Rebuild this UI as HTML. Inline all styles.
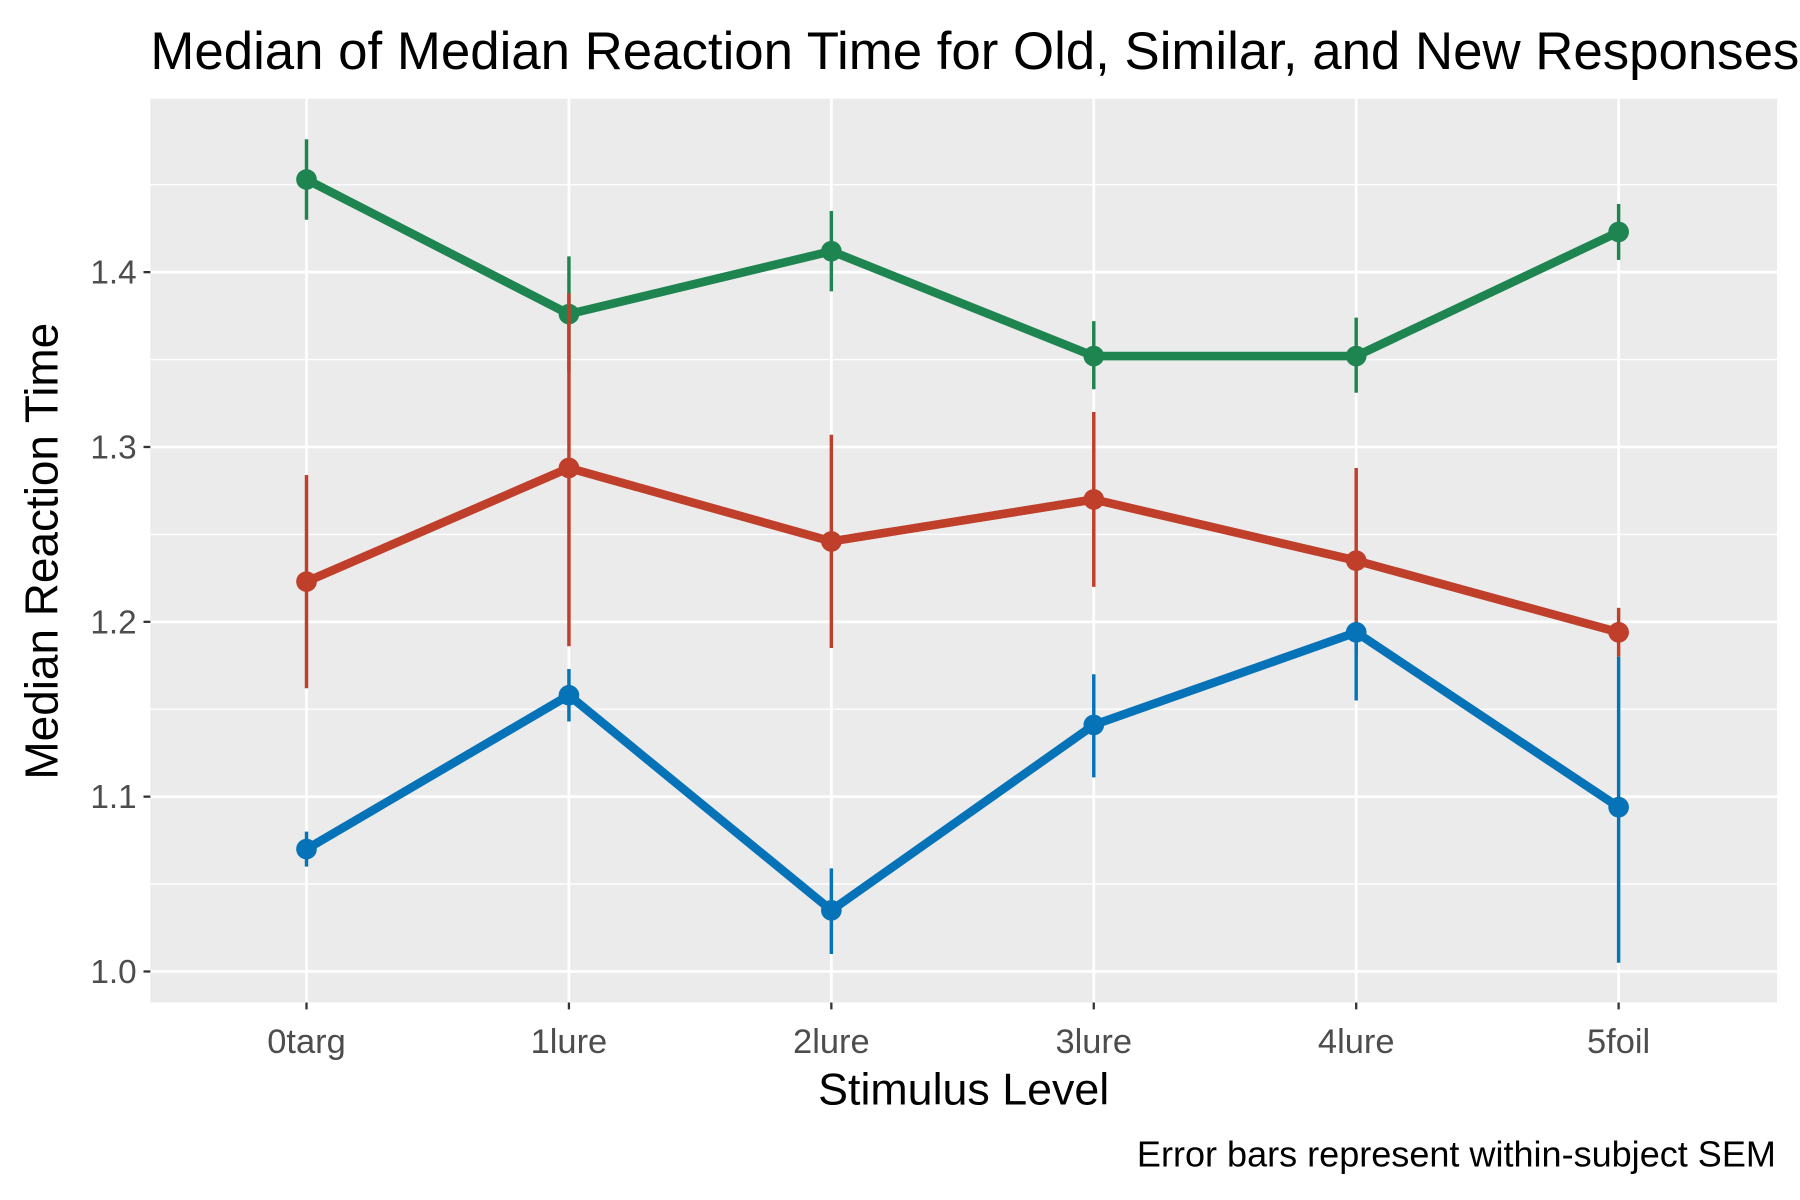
<!DOCTYPE html>
<html><head><meta charset="utf-8"><style>html,body{margin:0;padding:0;background:#fff}svg{display:block}text{font-family:"Liberation Sans",sans-serif}</style></head>
<body>
<svg id="chart" width="1800" height="1200" viewBox="0 0 1568 1045" preserveAspectRatio="none" xmlns="http://www.w3.org/2000/svg">
<rect x="0" y="0" width="1568" height="1045" fill="#fff"/>
<text x="131" y="60" font-size="46" fill="#000">Median of Median Reaction Time for Old, Similar, and New Responses</text>
<rect x="131" y="86" width="1417" height="787" fill="#ebebeb"/>
<g id="grid"></g>
<g id="series"></g>
<g id="axes"></g>
<text x="839.5" y="962" font-size="39" text-anchor="middle">Stimulus Level</text>
<text transform="translate(50,480) rotate(-90)" font-size="40" text-anchor="middle">Median Reaction Time</text>
<text x="1547" y="1016" font-size="31.4" text-anchor="end">Error bars represent within-subject SEM</text>
</svg>
<script>
const categories = ["0targ","1lure","2lure","3lure","4lure","5foil"];
const yTicks = [1.0,1.1,1.2,1.3,1.4];
const yTickLabels = ["1.0","1.1","1.2","1.3","1.4"];
const yMinor = [1.05,1.15,1.25,1.35,1.45];
const oldVals = [1.070,1.158,1.035,1.141,1.194,1.094];
const oldLo = [1.060,1.143,1.010,1.111,1.155,1.005];
const oldHi = [1.080,1.173,1.059,1.170,1.200,1.180];
const similarVals = [1.223,1.288,1.246,1.270,1.235,1.194];
const similarLo = [1.162,1.186,1.185,1.220,1.182,1.180];
const similarHi = [1.284,1.388,1.307,1.320,1.288,1.208];
const newVals = [1.453,1.376,1.412,1.352,1.352,1.423];
const newLo = [1.430,1.343,1.389,1.333,1.331,1.407];
const newHi = [1.476,1.409,1.435,1.372,1.374,1.439];

const NS="http://www.w3.org/2000/svg";
const px0=131,px1=1548,py0=86,py1=873;
const yMin=0.98227,yMax=1.49918;
function x(i){return 267+i*(1410-267)/(categories.length-1);}
function y(v){return py1-(v-yMin)/(yMax-yMin)*(py1-py0);}
function mk(tag,attrs,parent){const e=document.createElementNS(NS,tag);for(const k in attrs)e.setAttribute(k,attrs[k]);parent.appendChild(e);return e;}
const grid=document.getElementById('grid'),axes=document.getElementById('axes'),ser=document.getElementById('series');
yMinor.forEach(v=>{const l=mk('line',{x1:px0,x2:px1,y1:y(v),y2:y(v),stroke:'#fff','stroke-width':1.2},grid);

});
yTicks.forEach((v,i)=>{const l=mk('line',{x1:px0,x2:px1,y1:y(v),y2:y(v),stroke:'#fff','stroke-width':2.4},grid);


const t=mk('line',{x1:px0-6,x2:px0,y1:y(v),y2:y(v),stroke:'#333','stroke-width':2},axes);


const tx=mk('text',{x:px0-12,y:y(v)+10,'font-size':29,fill:'#4d4d4d','text-anchor':'end'},axes);tx.textContent=yTickLabels[i];

});
categories.forEach((c,i)=>{const l=mk('line',{x1:x(i),x2:x(i),y1:py0,y2:py1,stroke:'#fff','stroke-width':2.4},grid);


const t=mk('line',{x1:x(i),x2:x(i),y1:py1,y2:py1+6,stroke:'#333','stroke-width':2},axes);


const tx=mk('text',{x:x(i),y:py1+44,'font-size':30,fill:'#4d4d4d','text-anchor':'middle'},axes);tx.textContent=c;

});
function drawSeries(name,vals,lo,hi,color){
 const g=mk('g',{},ser);
 
 
 vals.forEach((v,i)=>{const e=mk('line',{x1:x(i),x2:x(i),y1:y(lo[i]),y2:y(hi[i]),stroke:color,'stroke-width':3},g);
 
 });
 const p=mk('polyline',{points:vals.map((v,i)=>x(i)+','+y(v)).join(' '),fill:'none',stroke:color,'stroke-width':7.5,'stroke-linejoin':'round'},g);
 
 
 vals.forEach((v,i)=>{const c=mk('circle',{cx:x(i),cy:y(v),r:9,fill:color},g);
 
 });
}
drawSeries('new',newVals,newLo,newHi,'#1f8550');
drawSeries('similar',similarVals,similarLo,similarHi,'#bf3f2b');
drawSeries('old',oldVals,oldLo,oldHi,'#0672b8');
</script>
</body></html>
